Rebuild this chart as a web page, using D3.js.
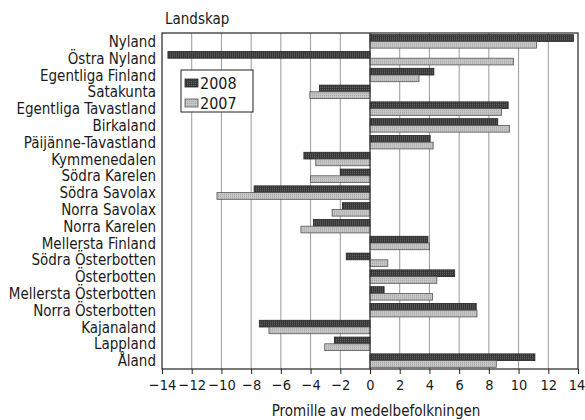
<!DOCTYPE html>
<html>
<head>
<meta charset="utf-8">
<script src="https://d3js.org/d3.v7.min.js"></script>
<style>
  body { margin: 0; background: #fff; }
  text { font-family: "DejaVu Sans Condensed", "Liberation Sans Narrow", sans-serif; fill: #1a1a1a; }
</style>
</head>
<body>
<svg id="chart" width="585" height="420"></svg>
<script>
// data, promille of mean population
let regions = ["Nyland", "Östra Nyland", "Egentliga Finland", "Satakunta", "Egentliga Tavastland",
  "Birkaland", "Päijänne-Tavastland", "Kymmenedalen", "Södra Karelen", "Södra Savolax",
  "Norra Savolax", "Norra Karelen", "Mellersta Finland", "Södra Österbotten", "Österbotten",
  "Mellersta Österbotten", "Norra Österbotten", "Kajanaland", "Lappland", "Åland"]
let values2008 = [13.7, -13.6, 4.3, -3.4, 9.3, 8.6, 4.05, -4.45, -2.0, -7.8,
  -1.85, -3.8, 3.9, -1.6, 5.7, 0.95, 7.15, -7.45, -2.4, 11.1]
let values2007 = [11.2, 9.65, 3.3, -4.05, 8.85, 9.4, 4.25, -3.65, -4.0, -10.3,
  -2.55, -4.65, 4.0, 1.2, 4.5, 4.2, 7.2, -6.8, -3.05, 8.5]
let series = ["2008", "2007"]
let xTicks = [-14, -12, -10, -8, -6, -4, -2, 0, 2, 4, 6, 8, 10, 12, 14]

let svg = d3.select("#chart")

//Set dimensions of the plot box
let margin = {top: 33, right: 7, bottom: 51, left: 162}
let width = 585 - margin.left - margin.right
let height = 420 - margin.top - margin.bottom

let body = svg.append("g")
  .attr("transform", "translate(" + margin.left + "," + margin.top + ")")

//pattern fills to mimic the printed raster
let defs = svg.append("defs")
let darkPat = defs.append("pattern")
  .attr("id", "dark").attr("width", 2).attr("height", 2)
  .attr("patternUnits", "userSpaceOnUse")
darkPat.append("rect").attr("width", 2).attr("height", 2).attr("fill", "#383838")
darkPat.append("rect").attr("width", 1).attr("height", 1).attr("fill", "#666")
let lightPat = defs.append("pattern")
  .attr("id", "light").attr("width", 2).attr("height", 2)
  .attr("patternUnits", "userSpaceOnUse")
lightPat.append("rect").attr("width", 2).attr("height", 2).attr("fill", "#c6c6c6")
lightPat.append("rect").attr("width", 1).attr("height", 1).attr("fill", "#a6a6a6")

//scales
let xscale = d3.scaleLinear()
  .domain([-14, 14])
  .range([0, width])

let yscale = d3.scaleBand()
  .domain(regions)
  .range([0, height])
  .paddingInner(0.2)
  .paddingOuter(0.1)

let inner = d3.scaleBand()
  .domain(series)
  .range([0, yscale.bandwidth()])

//grid lines
body.append("g").selectAll("line")
  .data(xTicks.slice(1, -1))
  .enter()
  .append("line")
  .attr("x1", d => xscale(d))
  .attr("x2", d => xscale(d))
  .attr("y1", 0)
  .attr("y2", height)
  .attr("stroke", "#808080")
  .attr("stroke-width", 0.8)

//bars
let rows = body.append("g").selectAll("g")
  .data(regions.map((r, i) => ({region: r, v: [values2008[i], values2007[i]]})))
  .enter()
  .append("g")
  .attr("transform", d => "translate(0," + yscale(d.region) + ")")

rows.selectAll("rect")
  .data(d => d.v.map((v, j) => ({key: series[j], value: v})))
  .enter()
  .append("rect")
  .attr("x", d => xscale(Math.min(0, d.value)))
  .attr("y", d => inner(d.key))
  .attr("width", d => Math.abs(xscale(d.value) - xscale(0)))
  .attr("height", inner.bandwidth())
  .attr("fill", d => d.key == "2008" ? "url(#dark)" : "url(#light)")
  .attr("stroke", d => d.key == "2008" ? "#222" : "#555")
  .attr("stroke-width", 0.8)

//zero line
body.append("line")
  .attr("x1", xscale(0)).attr("x2", xscale(0))
  .attr("y1", 0).attr("y2", height)
  .attr("stroke", "#333").attr("stroke-width", 1)

//frame
body.append("rect")
  .attr("width", width).attr("height", height)
  .attr("fill", "none").attr("stroke", "#222").attr("stroke-width", 1.2)

//x axis
let xAxis = body.append("g")
  .attr("transform", "translate(0," + height + ")")
  .call(d3.axisBottom(xscale).tickValues(xTicks).tickSize(5).tickPadding(6))
xAxis.select(".domain").remove()
xAxis.selectAll("line").attr("stroke", "#222")
xAxis.selectAll("text").style("font-size", "14.5px").attr("fill", "#1a1a1a")
  .style("font-family", "'DejaVu Sans Condensed', 'Liberation Sans Narrow', sans-serif")
  .attr("dx", d => d == 14 ? -1.5 : 0)

//category labels
body.append("g").selectAll("text")
  .data(regions)
  .enter()
  .append("text")
  .attr("x", -6)
  .attr("y", d => yscale(d) + yscale.bandwidth() / 2)
  .attr("dy", "0.37em")
  .attr("text-anchor", "end")
  .style("font-size", "15px")
  .text(d => d)

//titles
svg.append("text")
  .attr("x", 165).attr("y", 24)
  .style("font-size", "15px")
  .text("Landskap")

svg.append("text")
  .attr("x", 376).attr("y", 416)
  .attr("text-anchor", "middle")
  .style("font-size", "15px")
  .text("Promille av medelbefolkningen")

//legend
let legend = body.append("g").attr("transform", "translate(19,37)")
legend.append("rect")
  .attr("width", 72).attr("height", 42)
  .attr("fill", "#fff").attr("stroke", "#222").attr("stroke-width", 1)
legend.selectAll("g")
  .data(series)
  .enter()
  .append("g")
  .attr("transform", (d, i) => "translate(4," + (7 + i * 20) + ")")
  .each(function(d) {
    let g = d3.select(this)
    g.append("rect").attr("width", 13).attr("height", 8).attr("y", 2)
      .attr("fill", d == "2008" ? "url(#dark)" : "url(#light)")
      .attr("stroke", d == "2008" ? "#222" : "#555").attr("stroke-width", 0.8)
    g.append("text").attr("x", 15).attr("y", 6).attr("dy", "0.37em")
      .style("font-size", "16px").text(d)
  })
</script>
</body>
</html>
